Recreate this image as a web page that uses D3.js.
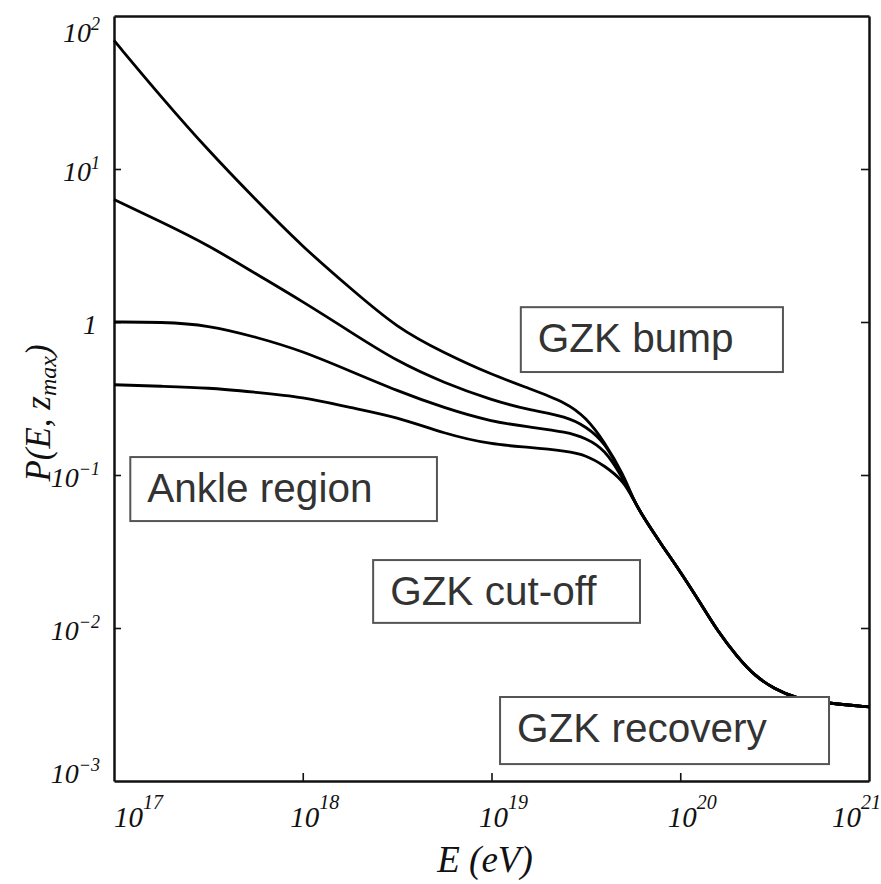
<!DOCTYPE html>
<html>
<head>
<meta charset="utf-8">
<script src="https://cdn.jsdelivr.net/npm/d3@7/dist/d3.min.js"></script>
<style>
  body { margin: 0; background: #fff; }
  svg { display: block; }
</style>
</head>
<body>
<div id="chart"></div>
<script>
// energies (eV), shared by the four curves before they merge
var energy = [1e17, 1.78e17, 3.16e17, 5.62e17, 1e18, 1.78e18, 3.16e18, 5.62e18,
              1e19, 1.58e19, 2.51e19, 3.16e19, 3.98e19, 5.01e19];
// four curves, top to bottom
var curve1 = [69.2, 29.5, 13.2, 6.31, 3.09, 1.67, 0.912, 0.627, 0.453, 0.368, 0.296, 0.238, 0.164, 0.100];
var curve2 = [6.31, 4.51, 3.18, 2.07, 1.36, 0.865, 0.552, 0.400, 0.309, 0.266, 0.241, 0.207, 0.165, 0.0955];
var curve3 = [1.0, 1.0, 0.955, 0.80, 0.646, 0.478, 0.355, 0.274, 0.223, 0.206, 0.191, 0.174, 0.148, 0.0933];
var curve4 = [0.389, 0.380, 0.372, 0.347, 0.324, 0.276, 0.240, 0.186, 0.158, 0.152, 0.143, 0.135, 0.115, 0.0912];
// common tail after the GZK cut-off
var tailEnergy = [5.62e19, 6.31e19, 7.94e19, 1e20, 1.26e20, 1.58e20, 2e20, 2.51e20, 3.16e20, 3.98e20, 6.31e20, 1e21];
var tailP = [0.0700, 0.0540, 0.0352, 0.0234, 0.0150, 0.0095, 0.0065, 0.0048, 0.0040, 0.0035, 0.0032, 0.00305];

var xTicks = [1e17, 1e18, 1e19, 1e20, 1e21];
var xTickExp = ["17", "18", "19", "20", "21"];
var yTicks = [1e2, 1e1, 1, 1e-1, 1e-2, 1e-3];
var yTickExp = ["2", "1", "", "\u22121", "\u22122", "\u22123"];

// annotation boxes, corners in data units
var boxText = ["GZK bump", "Ankle region", "GZK cut-off", "GZK recovery"];
var boxE0 = [1.43e19, 1.22e17, 2.36e18, 1.11e19];
var boxE1 = [3.50e20, 5.14e18, 6.12e19, 6.14e20];
var boxP0 = [1.25, 0.131, 0.0278, 0.00354];
var boxP1 = [0.471, 0.050, 0.0108, 0.00129];

var width = 881, height = 884;
var margin = { top: 16, right: 12, bottom: 103, left: 114 };

var svg = d3.select("#chart").append("svg")
    .attr("width", width)
    .attr("height", height);

var x = d3.scaleLog().domain([1e17, 1e21]).range([margin.left, width - margin.right]);
var y = d3.scaleLog().domain([1e-3, 1e2]).range([height - margin.bottom, margin.top]);

// frame + inner ticks
var frame = svg.append("g").attr("class", "frame");
frame.append("g")
    .attr("transform", "translate(0," + y(1e-3) + ")")
    .call(d3.axisBottom(x).tickValues(xTicks.slice(1, 4)).tickSizeInner(-8).tickSizeOuter(0).tickFormat(""));
frame.append("g")
    .attr("transform", "translate(0," + y(1e2) + ")")
    .call(d3.axisTop(x).tickValues([]).tickSizeOuter(0));
frame.append("g")
    .attr("transform", "translate(" + x(1e17) + ",0)")
    .call(d3.axisLeft(y).tickValues(yTicks.slice(1, 5)).tickSizeInner(-7).tickSizeOuter(0).tickFormat(""));
frame.append("g")
    .attr("transform", "translate(" + x(1e21) + ",0)")
    .call(d3.axisRight(y).tickValues(yTicks.slice(1, 5)).tickSizeInner(-8).tickSizeOuter(0).tickFormat(""));
frame.selectAll("path.domain").attr("stroke", "#111").attr("stroke-width", 2.5);
frame.selectAll(".tick line").attr("stroke", "#111").attr("stroke-width", 1.6);

// tick labels, hand lettered look
var tickFont = "'Liberation Serif', 'DejaVu Serif', serif";
xTicks.forEach(function (t, i) {
  var px = x(t);
  var anchor = "middle", ox = 12;
  if (i === 0) { anchor = "start"; ox = 0; }
  if (i === xTicks.length - 1) { anchor = "end"; ox = 12; }
  var lab = svg.append("text")
      .attr("x", px + ox)
      .attr("y", 827)
      .attr("text-anchor", anchor)
      .attr("font-family", tickFont)
      .attr("font-style", "italic")
      .attr("font-size", 29)
      .attr("fill", "#111");
  lab.append("tspan").text("10");
  lab.append("tspan").attr("dy", -18).attr("font-size", 20).text(xTickExp[i]);
});

yTicks.forEach(function (t, i) {
  var py = Math.min(Math.max(y(t) + 12, 42), 783);
  var lab = svg.append("text")
      .attr("x", 100)
      .attr("y", py)
      .attr("text-anchor", "end")
      .attr("font-family", tickFont)
      .attr("font-style", "italic")
      .attr("font-size", 28)
      .attr("fill", "#111");
  if (yTickExp[i] === "") {
    lab.attr("x", 97).text("1");
  } else {
    lab.append("tspan").text("10");
    lab.append("tspan").attr("dy", -12).attr("font-size", 18).text(yTickExp[i]);
  }
});

// axis titles
svg.append("text")
    .attr("x", 485)
    .attr("y", 872)
    .attr("text-anchor", "middle")
    .attr("font-family", tickFont)
    .attr("font-style", "italic")
    .attr("font-size", 37)
    .attr("fill", "#111")
    .text("E (eV)");

var ylab = svg.append("text")
    .attr("transform", "translate(50,413) rotate(-90)")
    .attr("text-anchor", "middle")
    .attr("font-family", tickFont)
    .attr("font-style", "italic")
    .attr("font-size", 35)
    .attr("fill", "#111");
ylab.append("tspan").text("P(E, z");
ylab.append("tspan").attr("dy", 6).attr("font-size", 24).text("max");
ylab.append("tspan").attr("dy", -6).text(")");

// curves
var line = d3.line()
    .x(function (d) { return x(d[0]); })
    .y(function (d) { return y(d[1]); })
    .curve(d3.curveBasis);

[curve1, curve2, curve3, curve4].forEach(function (c) {
  var pts = energy.map(function (e, i) { return [e, c[i]]; })
      .concat(tailEnergy.map(function (e, i) { return [e, tailP[i]]; }));
  svg.append("path")
      .datum(pts)
      .attr("d", line)
      .attr("fill", "none")
      .attr("stroke", "#000")
      .attr("stroke-width", 2.8);
});

// annotation boxes
var boxFont = "'Liberation Sans', Arial, sans-serif";
boxText.forEach(function (t, i) {
  var x0 = x(boxE0[i]), x1 = x(boxE1[i]);
  var y0 = y(boxP0[i]), y1 = y(boxP1[i]);
  svg.append("rect")
      .attr("x", x0)
      .attr("y", y0)
      .attr("width", x1 - x0)
      .attr("height", y1 - y0)
      .attr("fill", "#fff")
      .attr("stroke", "#555")
      .attr("stroke-width", 2);
  svg.append("text")
      .attr("x", x0 + 17)
      .attr("y", y0 + 45)
      .attr("font-family", boxFont)
      .attr("font-size", 40.5)
      .attr("fill", "#333")
      .text(t);
});
</script>
</body>
</html>
